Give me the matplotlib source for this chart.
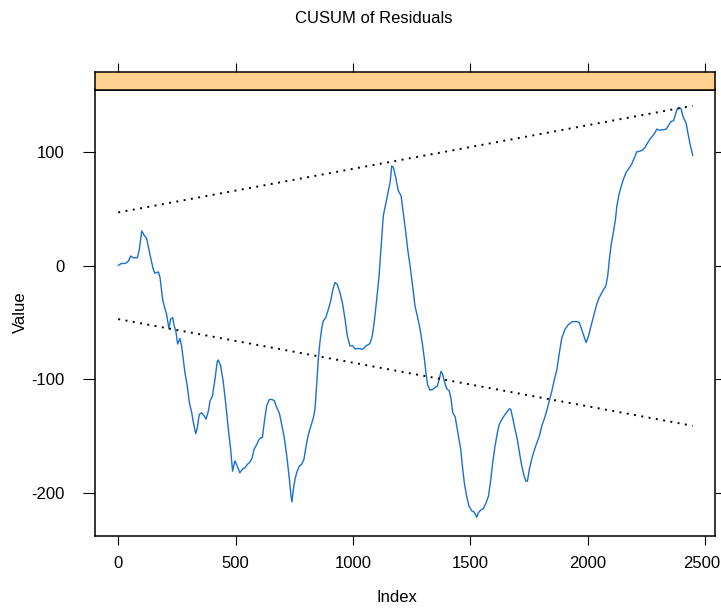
import matplotlib
matplotlib.use("Agg")
import matplotlib.pyplot as plt
from matplotlib.transforms import ScaledTranslation

plt.rcParams['font.family'] = ['Liberation Sans', 'DejaVu Sans']

# recursive CUSUM path (index, value)
idx = [0, 14, 29, 43, 53, 64, 81, 90, 100, 110, 121, 135, 149, 156, 171, 178,
       189, 199, 206, 216, 223, 232, 237, 246, 253, 263, 270, 284, 294, 303,
       313, 320, 330, 337, 345, 355, 365, 374, 384, 391, 401, 412, 422, 426,
       436, 447, 459, 469, 479, 487, 497, 507, 518, 530, 540, 550, 561, 571,
       578, 590, 600, 607, 614, 622, 632, 643, 654, 665, 675, 686, 696, 706,
       718, 729, 736, 740, 746, 753, 760, 771, 781, 791, 800, 810, 821, 831,
       838, 845, 852, 859, 867, 873, 884, 895, 905, 913, 923, 933, 945, 956,
       966, 976, 987, 999, 1009, 1023, 1041, 1055, 1072, 1082, 1091, 1101,
       1111, 1119, 1129, 1139, 1148, 1158, 1165, 1172, 1182, 1193, 1205, 1214,
       1225, 1233, 1243, 1254, 1264, 1274, 1285, 1295, 1304, 1311, 1318, 1328,
       1340, 1349, 1359, 1368, 1375, 1382, 1389, 1399, 1410, 1418, 1425, 1435,
       1444, 1453, 1459, 1466, 1474, 1484, 1494, 1506, 1516, 1527, 1534, 1544,
       1555, 1567, 1577, 1587, 1595, 1605, 1615, 1623, 1634, 1643, 1655, 1666,
       1672, 1680, 1690, 1700, 1709, 1719, 1729, 1737, 1743, 1751, 1761, 1771,
       1783, 1794, 1804, 1814, 1825, 1836, 1847, 1858, 1868, 1878, 1889, 1903,
       1917, 1934, 1953, 1964, 1974, 1984, 1993, 2003, 2014, 2027, 2038, 2049,
       2064, 2077, 2085, 2092, 2099, 2109, 2118, 2124, 2132, 2141, 2152, 2163,
       2176, 2187, 2199, 2209, 2223, 2234, 2244, 2254, 2265, 2277, 2287, 2294,
       2305, 2320, 2334, 2343, 2355, 2365, 2372, 2379, 2390, 2398, 2405, 2412,
       2419, 2426, 2436, 2447]
cusum = [0.4, 2, 2, 4, 8.6, 7, 7, 14.5, 30.7, 27, 24, 10, -3, -6.6, -5.4, -10.4,
         -29.5, -38, -42.8, -55.4, -47, -45.7, -51.6, -58.4, -69, -64, -70.7,
         -94, -106, -120.6, -129.5, -138, -148, -142.7, -131, -129.5, -132,
         -135, -128, -119, -115, -100, -84, -83, -88, -101.6, -123.6, -144,
         -162, -181, -172, -176.5, -182.4, -179, -178, -175, -173, -169, -162,
         -157.4, -153, -151.5, -151.5, -138, -123.6, -118, -117.7, -119, -125,
         -129.5, -140, -150, -167.7, -188, -203, -208, -197, -188, -182.4,
         -176.5, -175, -170.6, -159, -148.6, -141, -134, -126.5, -106, -82.5,
         -67.7, -54.5, -48.7, -45.7, -38.4, -31, -22, -14.8, -16.3, -24, -34,
         -47, -62, -70.7, -70.5, -73.3, -72.8, -73.6, -70.7, -68.6, -62, -48.7,
         -29.5, -9, 14.5, 44, 54, 63, 73.4, 88, 86.6, 77.8, 66, 61.6, 47, 29,
         14.5, 0, -17.8, -35.4, -44.3, -55, -68, -82, -95, -105, -109.5, -109,
         -107.4, -106, -99.5, -93, -95.7, -101.6, -108.3, -110.4, -117.7,
         -129.5, -133, -144, -154.5, -161.8, -176.5, -191, -203, -211.8, -216,
         -217, -221.5, -217.6, -215.3, -214, -208.8, -203, -188.3, -173.5, -159,
         -147, -139.8, -135.4, -132.5, -129, -126, -126.5, -133.9, -144, -153,
         -164.7, -176.5, -185.4, -189.8, -189.8, -179.5, -170.6, -163.3, -156,
         -150, -141.3, -135.4, -128, -119, -110.4, -100, -92, -78, -64, -56,
         -51.9, -49.2, -49.2, -50, -56, -62, -67.7, -62, -53, -42.8, -34, -28,
         -22.2, -17.8, -9, 5.7, 17.5, 29.3, 41, 52.7, 61.6, 69, 76.3, 82.2, 86,
         89.5, 95.4, 100.4, 101, 102, 104.2, 108, 111.6, 114.5, 117.5, 120.4,
         119.5, 119.8, 120.4, 123.3, 127.2, 127.7, 132, 137.4, 139.5, 138, 132,
         128.6, 125.7, 117.5, 107, 97.4]

# significance boundaries
bound_idx = [0, 2447]
upper = [47, 141]
lower = [-47, -141]

x_ticks = [0, 500, 1000, 1500, 2000, 2500]
y_ticks = [-200, -100, 0, 100]

W, H = 721, 608
fig = plt.figure(figsize=(W / 100, H / 100), dpi=100)

ax = fig.add_axes([95 / W, (H - 536) / H, 620 / W, 446.5 / H])
strip = fig.add_axes([95 / W, (H - 89.5) / H, 620 / W, 17.5 / H])

ax.plot(idx, cusum, color='#1a70d0', lw=1.0)
dots = dict(color='black', lw=1.4, linestyle=(0, (1, 2.8)))
ax.plot(bound_idx, upper, **dots)
ax.plot(bound_idx, lower, **dots)

ax.set_xlim(-99, 2542)
ax.set_ylim(-238.1, 155.3)
ax.set_xticks(x_ticks)
ax.set_xticklabels([str(t) for t in x_ticks])
ax.set_yticks(y_ticks)
ax.set_yticklabels([str(t) for t in y_ticks])

ax.tick_params(axis='x', direction='out', length=6.3, width=0.8, pad=8,
               labelsize=12, top=False)
ax.tick_params(axis='y', direction='out', length=8.6, width=0.8, pad=13,
               labelsize=12, right=True, labelright=False)
for s in ax.spines.values():
    s.set_linewidth(1.1)

# keep the last x label inside the figure edge
last = ax.get_xticklabels()[-1]
last.set_transform(last.get_transform() + ScaledTranslation(-3 / 100, 0, fig.dpi_scale_trans))

strip.set_facecolor('#FFD18F')
strip.set_xlim(ax.get_xlim())
strip.set_xticks(x_ticks)
strip.set_yticks([])
strip.tick_params(axis='x', direction='out', length=6.6, width=0.8,
                  top=True, bottom=False, labeltop=False, labelbottom=False)
for s in strip.spines.values():
    s.set_linewidth(1.1)

fig.text(374 / W, 1 - 18.7 / H, 'CUSUM of Residuals', ha='center', va='center',
         fontsize=12)
fig.text(397 / W, 1 - 597.3 / H, 'Index', ha='center', va='center', fontsize=12)
fig.text(20 / W, 1 - 312 / H, 'Value', ha='center', va='center', fontsize=12,
         rotation=90)

fig.savefig('out.png', dpi=100)
